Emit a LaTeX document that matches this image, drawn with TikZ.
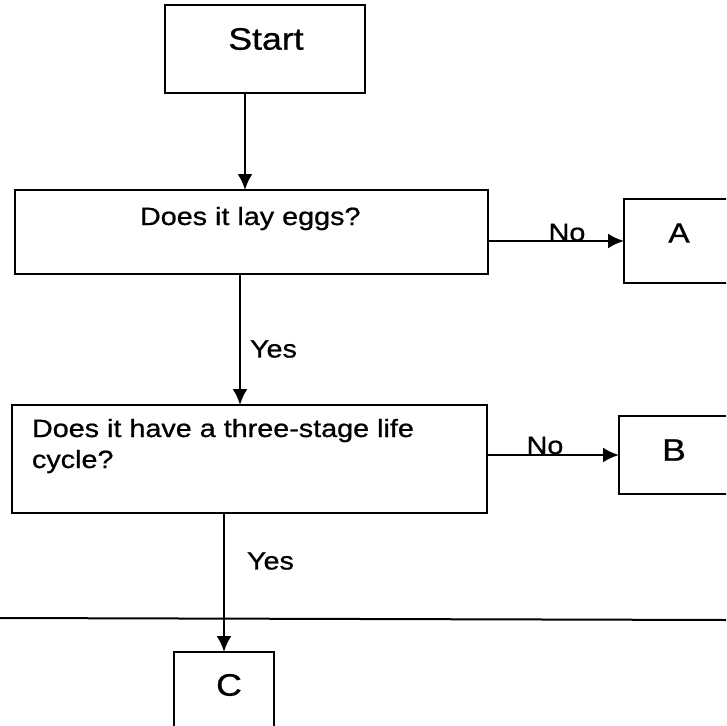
\documentclass[tikz,border=0pt]{standalone}
\usepackage{fontspec}
\setmainfont{Liberation Sans}[FakeStretch=1.15,FakeBold=0.8]
\usetikzlibrary{arrows.meta}
\begin{document}
\begin{tikzpicture}[x=1pt,y=-1pt,
  box/.style={draw, line width=2.5pt, inner sep=0pt, outer sep=0pt, rectangle},
  arr/.style={line width=2.4pt, -{Latex[length=16pt,width=15pt]}},
  txt/.style={inner sep=0pt, outer sep=0pt, font=\fontsize{25}{30}\selectfont},
  big/.style={inner sep=0pt, outer sep=0pt, font=\fontsize{31}{36}\selectfont}]
\useasboundingbox (0,0) rectangle (726,726);
\clip (0,0) rectangle (726,726);
\fill[white] (0,0) rectangle (726,726);
% boxes
\node[box, minimum width=200pt, minimum height=88pt] (start) at (265,49) {};
\node[box, minimum width=473pt, minimum height=84pt] (q1) at (251.5,232) {};
\node[box, minimum width=176pt, minimum height=84pt] (a) at (712,241) {};
\node[box, minimum width=475pt, minimum height=108pt] (q2) at (249.5,459) {};
\node[box, minimum width=181pt, minimum height=78pt] (b) at (709.5,455) {};
\node[box, minimum width=100pt, minimum height=148pt] (c) at (224,726) {};
% texts
\node[big] (tstart) at (266,39) {Start};
\node[txt, anchor=base west] (tq1) at (140,225) {Does it lay eggs?};
\node[txt, anchor=base west] (tq2a) at (32,437) {Does it have a three-stage life};
\node[txt, anchor=base west] (tq2b) at (32,468) {cycle?};
\node[big, font=\fontsize{28}{32}\selectfont] (ta) at (679,233) {A};
\node[big] (tb) at (674,450) {B};
\node[big] (tc) at (229,685) {C};
% connectors
\coordinate (m0) at (245,0);
\coordinate (m1) at (240,0);
\draw[arr] (start.south -| m0) -- (q1.north -| m0);
\draw[arr] (q1.south -| m1) -- (q2.north -| m1);
\draw[arr] (q1.east |- a.west) -- (a.west);
\draw[arr] (q2.east |- b.west) -- (b.west);
\draw[arr] (q2.south -| c.north) -- (c.north);
% labels
\node[txt, anchor=base] (no1) at (567,241) {No};
\node[txt, anchor=base] (no2) at (545,454) {No};
\node[txt, anchor=west] (yes1) at (250,349) {Yes};
\node[txt, anchor=west] (yes2) at (247,561) {Yes};
% horizontal rule
\coordinate (hl) at (0,618);
\coordinate (hr) at (726,620);
\draw[line width=2pt] (hl) -- (hr);
\end{tikzpicture}
\end{document}
